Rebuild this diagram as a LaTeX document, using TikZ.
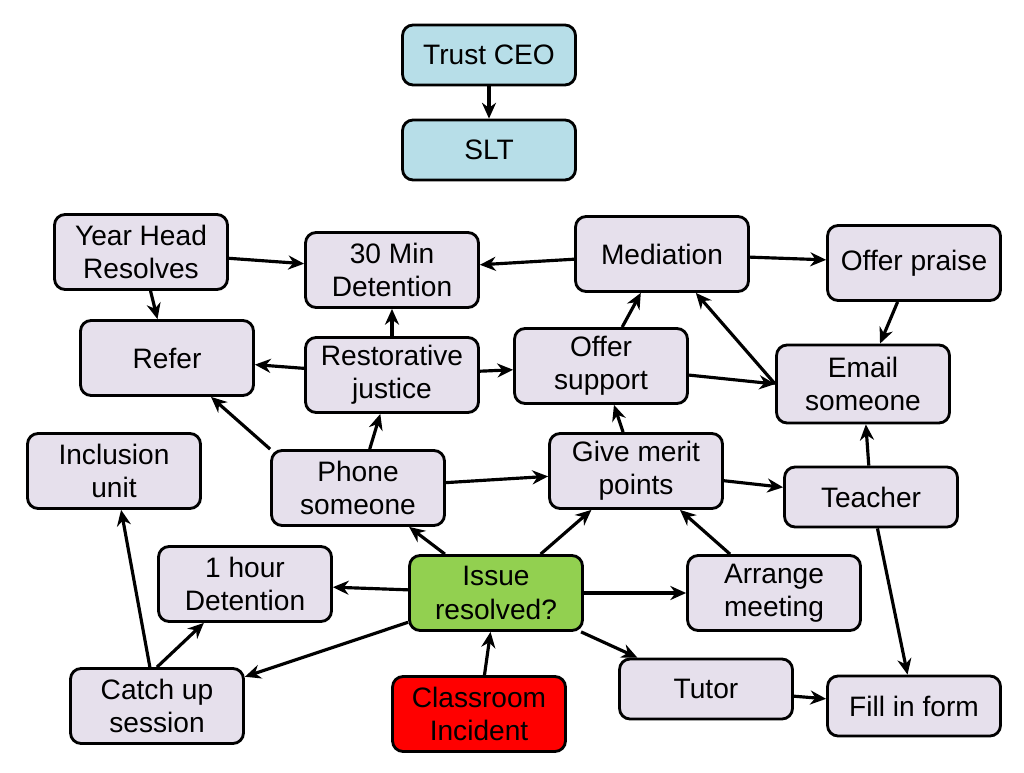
\documentclass[tikz,border=0pt]{standalone}
\usepackage{fontspec}
\setmainfont{Liberation Sans}
\usetikzlibrary{arrows.meta}
\definecolor{boxfill}{RGB}{230,224,236}
\definecolor{topfill}{RGB}{183,222,232}
\definecolor{issuefill}{RGB}{146,208,80}
\definecolor{incfill}{RGB}{255,0,0}
\begin{document}
\begin{tikzpicture}[x=0.02cm,y=-0.02cm]
\tikzset{box/.style={draw=black,line width=1.6pt,rounded corners=6pt,fill=boxfill,
  minimum width=3.46cm,minimum height=1.5cm,align=center,inner sep=1pt,
  font=\fontsize{16}{19}\selectfont},
  arr/.style={-{Stealth[length=9pt,width=8pt]},line width=1.8pt}}
\useasboundingbox (0,0) rectangle (1024,773);
% top of the chart
\node[box,fill=topfill,minimum height=1.2cm] (ceo) at (489,55) {Trust CEO};
\node[box,fill=topfill,minimum height=1.2cm] (slt) at (489,150) {SLT};
% boxes
\node[box] (year) at (141,252) {Year Head\\Resolves};
\node[box] (min30) at (392,270) {30 Min\\Detention};
\node[box] (med) at (662,254) {Mediation};
\node[box] (praise) at (914,263) {Offer praise};
\node[box] (refer) at (167,358) {Refer};
\node[box] (rest) at (392,375) {Restorative\\justice};
\node[box] (supp) at (601,366) {Offer\\support};
\node[box,minimum height=1.56cm] (email) at (863,384) {Email\\someone};
\node[box] (incl) at (114,471) {Inclusion\\unit};
\node[box] (phone) at (358,488) {Phone\\someone};
\node[box] (merit) at (636,471) {Give merit\\points};
\node[box,minimum height=1.2cm] (teach) at (871,497) {Teacher};
\node[box] (hour) at (245,584) {1 hour\\Detention};
\node[box,fill=issuefill] (issue) at (496,593) {Issue\\resolved?};
\node[box] (meet) at (774,593) {Arrange\\meeting};
\node[box] (catch) at (157,706) {Catch up\\session};
\node[box,fill=incfill] (inc) at (479,714) {Classroom\\Incident};
\node[box,minimum height=1.2cm] (tutor) at (706,689) {Tutor};
\node[box,minimum height=1.2cm] (form) at (914,706) {Fill in form};
% connectors
\draw[arr] (ceo) -- (slt);
\draw[arr] (year) -- (min30);
\draw[arr] (year) -- (refer);
\draw[arr] (med) -- (min30);
\draw[arr] (med) -- (praise);
\draw[arr] (praise) -- (email);
\draw[arr] (rest) -- (refer);
\draw[arr] (rest) -- (min30);
\draw[arr] (rest) -- (supp);
\draw[arr] (supp) -- (med);
\draw[arr] (supp) -- (email.west);
\draw[arr] (email.west) -- (med);
\draw[arr] (catch) -- (incl);
\draw[arr] (catch.north) -- (hour);
\draw[arr] (phone.north west) -- (refer);
\draw[arr] (phone) -- (rest);
\draw[arr] (phone) -- (merit);
\draw[arr] (merit) -- (supp);
\draw[arr] (merit) -- (teach);
\draw[arr] (teach) -- (email);
\draw[arr] (teach) -- (form);
\draw[arr] (issue) -- (phone);
\draw[arr] (issue) -- (merit);
\draw[arr] (issue) -- (hour);
\draw[arr] (issue) -- (catch);
\draw[arr] (issue) -- (meet);
\draw[arr] (issue) -- (tutor);
\draw[arr] (meet) -- (merit);
\draw[arr] (inc) -- (issue);
\draw[arr] (tutor) -- (form);
\end{tikzpicture}
\end{document}
